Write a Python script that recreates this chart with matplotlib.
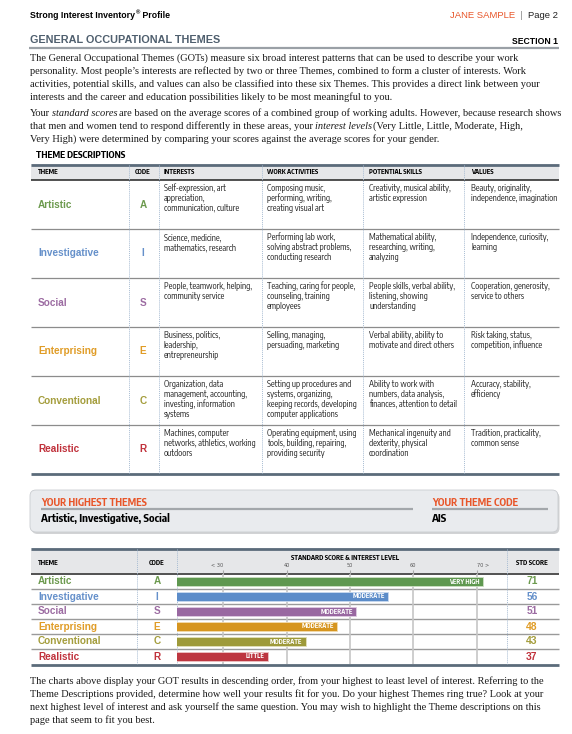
import numpy as np
import matplotlib
matplotlib.use('Agg')
from matplotlib import pyplot as plt
from matplotlib import font_manager
from matplotlib import ft2font
from matplotlib.patches import Rectangle, FancyBboxPatch

# ---- data ----
themes = ['Artistic', 'Investigative', 'Social', 'Enterprising', 'Conventional', 'Realistic']
codes = ['A', 'I', 'S', 'E', 'C', 'R']
interests = [
    ['Self-expression, art', 'appreciation,', 'communication, culture'],
    ['Science, medicine,', 'mathematics, research'],
    ['People, teamwork, helping,', 'community service'],
    ['Business, politics,', 'leadership,', 'entrepreneurship'],
    ['Organization, data', 'management, accounting,', 'investing, information', 'systems'],
    ['Machines, computer', 'networks, athletics, working', 'outdoors'],
]
work_activities = [
    ['Composing music,', 'performing, writing,', 'creating visual art'],
    ['Performing lab work,', 'solving abstract problems,', 'conducting research'],
    ['Teaching, caring for people,', 'counseling, training', 'employees'],
    ['Selling, managing,', 'persuading, marketing'],
    ['Setting up procedures and', 'systems, organizing,', 'keeping records, developing', 'computer applications'],
    ['Operating equipment, using', 'tools, building, repairing,', 'providing security'],
]
potential_skills = [
    ['Creativity, musical ability,', 'artistic expression'],
    ['Mathematical ability,', 'researching, writing,', 'analyzing'],
    ['People skills, verbal ability,', 'listening, showing', 'understanding'],
    ['Verbal ability, ability to', 'motivate and direct others'],
    ['Ability to work with', 'numbers, data analysis,', 'finances, attention to detail'],
    ['Mechanical ingenuity and', 'dexterity, physical', 'coordination'],
]
values = [
    ['Beauty, originality,', 'independence, imagination'],
    ['Independence, curiosity,', 'learning'],
    ['Cooperation, generosity,', 'service to others'],
    ['Risk taking, status,', 'competition, influence'],
    ['Accuracy, stability,', 'efficiency'],
    ['Tradition, practicality,', 'common sense'],
]
table_headers = ['THEME', 'CODE', 'INTERESTS', 'WORK ACTIVITIES', 'POTENTIAL SKILLS', 'VALUES']
scores = [71, 56, 51, 48, 43, 37]
levels = ['VERY HIGH', 'MODERATE', 'MODERATE', 'MODERATE', 'MODERATE', 'LITTLE']
score_ticks = [30, 40, 50, 60, 70]
score_tick_labels = ['< 30', '40', '50', '60', '70 >']
highest_themes = 'Artistic, Investigative, Social'
theme_code = 'AIS'

# each line is a list of (text, style) pieces, joined by single spaces
intro_lines = [
    [("The General Occupational Themes (GOTs) measure six broad interest patterns that can be used to describe your work", 'normal')],
    [("personality. Most people\u2019s interests are reflected by two or three Themes, combined to form a cluster of interests. Work", 'normal')],
    [("activities, potential skills, and values can also be classified into these six Themes. This provides a direct link between your", 'normal')],
    [("interests and the career and education possibilities likely to be most meaningful to you.", 'normal')],
]
scores_lines = [
    [("Your", 'normal'), ("standard scores", 'italic'),
     ("are based on the average scores of a combined group of working adults. However, because research shows", 'normal')],
    [("that men and women tend to respond differently in these areas, your", 'normal'),
     ("interest levels", 'italic'), ("(Very Little, Little, Moderate, High,", 'normal')],
    [("Very High) were determined by comparing your scores against the average scores for your gender.", 'normal')],
]
closing_lines = [
    [("The charts above display your GOT results in descending order, from your highest to least level of interest. Referring to the", 'normal')],
    [("Theme Descriptions provided, determine how well your results fit for you. Do your highest Themes ring true? Look at your", 'normal')],
    [("next highest level of interest and ask yourself the same question. You may wish to highlight the Theme descriptions on this", 'normal')],
    [("page that seem to fit you best.", 'normal')],
]

# ---- styles ----
W, H = 572, 734
SANS = ['Liberation Sans', 'DejaVu Sans']
SERIF = ['Liberation Serif', 'DejaVu Serif']

# pick a condensed sans if one is installed
_fonts = font_manager.fontManager.ttflist
_names = {f.name for f in _fonts}
NARROW, STRETCH = 'Liberation Sans', 'normal'
if 'Liberation Sans Narrow' in _names:
    NARROW = 'Liberation Sans Narrow'
else:
    _cand = sorted(n for n in _names if ('Condensed' in n or 'Narrow' in n)
                   and 'Sans' in n and 'Mono' not in n)
    if _cand:
        NARROW = _cand[0]
    else:
        _cond = [f for f in _fonts if f.stretch in ('condensed', 'semi-condensed')
                 and 'Mono' not in f.name and 'Serif' not in f.name]
        if _cond:
            NARROW, STRETCH = _cond[0].name, _cond[0].stretch

text_colors = ['#6c9a4e', '#6590ca', '#9c6ca2', '#e09c26', '#a49d3c', '#c0313b']
bar_colors = ['#5f9850', '#5b8cc9', '#9968a1', '#d6951f', '#9e9a3a', '#bd3640']
bar_edges = ['#cfe0c6', '#c9daf0', '#e0cde3', '#f3dcae', '#e3e1bd', '#eec3c5']
orange = '#e8562a'
rule_dark = '#5b6b7a'
band = '#e6e7e9'
dotted = '#a9bdd3'

fig = plt.figure(figsize=(W / 100, H / 100), dpi=100)
ax = fig.add_axes([0, 0, 1, 1])
ax.set_xlim(0, W)
ax.set_ylim(H, 0)
ax.axis('off')
renderer = fig.canvas.get_renderer()


def width_of(t):
    return t.get_window_extent(renderer=renderer).width


def measure(txt, **kw):
    t = ax.text(0, -100, txt, **kw)
    w = width_of(t)
    t.remove()
    return w


def fit(txt, target, **kw):
    # font size that makes txt about target px wide
    return 10 * target / measure(txt, fontsize=10, **kw)


_ft = {}
_KERN = getattr(getattr(ft2font, 'Kerning', None), 'DEFAULT', 0)


def advance(s, style):
    # glyph advances + kerning (unscaled), spaces included
    if style not in _ft:
        f = ft2font.FT2Font(font_manager.findfont(
            font_manager.FontProperties(family=SERIF, style=style)))
        f.set_size(10, 72)
        _ft[style] = f
    f = _ft[style]
    total, prev = 0.0, None
    for c in s:
        gi = f.get_char_index(ord(c))
        if prev is not None:
            try:
                total += f.get_kerning(prev, gi, _KERN) / 64
            except Exception:
                pass
        total += f.load_char(ord(c)).linearHoriAdvance / 65536
        prev = gi
    return total


def ntext(x, y, s, size, **kw):
    kw.setdefault('va', 'center')
    return ax.text(x, y, s, fontsize=size, family=NARROW, fontstretch=STRETCH, **kw)


def hline(y, x0=31, x1=559, lw=1.0, color='#8a8a8a'):
    ax.plot([x0, x1], [y, y], lw=lw, color=color, solid_capstyle='butt')


def vline(x, y0, y1, lw=0.7, color=dotted):
    ax.plot([x, x], [y0, y1], lw=lw, color=color, ls=(0, (1, 1)))


_ref = ' '.join(p for p, _ in scores_lines[0])
SERIF_SIZE = fit(_ref, 528, family=SERIF)
ADV_K = measure(_ref, fontsize=SERIF_SIZE, family=SERIF) / advance(_ref, 'normal')
CELL = fit('communication, culture', 75, family=NARROW, fontstretch=STRETCH)
HEAD = fit('POTENTIAL SKILLS', 53, family=NARROW, fontstretch=STRETCH, weight='bold')
LABEL = fit('MODERATE', 32, family=NARROW, fontstretch=STRETCH, weight='bold')
GAP_FIX = 0.8  # small trim on the gap between pieces


def rich_line(x, y, parts):
    kw = dict(va='baseline', ha='left', color='#1a1a1a', fontsize=SERIF_SIZE, family=SERIF)
    for txt, style in parts:
        ax.text(x, y, txt, style=style, **kw)
        x += ADV_K * advance(txt + ' ', style) - GAP_FIX


def paragraph(lines, y0, step=13):
    for i, parts in enumerate(lines):
        rich_line(30, y0 + i * step + 2.8, parts)


# ---- page header ----
hk = dict(fontsize=6.3, weight='bold', family=SANS)
ax.text(30, 15, 'Strong Interest Inventory', va='center', **hk)
x = 30 + measure('Strong Interest Inventory', **hk) + 0.5
ax.text(x, 12.5, '\u00ae', va='center', fontsize=4.2, weight='bold', family=SANS)
x += measure('\u00ae', fontsize=4.2, weight='bold', family=SANS) + 0.3
ax.text(x, 15, ' Profile', va='center', **hk)

x = 558
for txt, col in [('Page 2', '#222222'), ('  |  ', '#888888'), ('JANE SAMPLE', orange)]:
    t = ax.text(x, 15, txt, fontsize=6.8, color=col, family=SANS, va='center', ha='right')
    x -= width_of(t)

ax.text(30, 40, 'GENERAL OCCUPATIONAL THEMES', fontsize=7.8, weight='bold',
        color='#4f5f6e', family=SANS, va='center')
ax.text(558, 41.5, 'SECTION 1', fontsize=6.2, weight='bold', family=SANS,
        va='center', ha='right')
hline(47.5, 29, 559, lw=1.6, color='#9aa0a6')

paragraph(intro_lines, 58)
paragraph(scores_lines, 113)

# ---- theme descriptions table ----
ntext(36, 156, 'THEME DESCRIPTIONS', fit('THEME DESCRIPTIONS', 90, family=NARROW,
      fontstretch=STRETCH, weight='bold'), weight='bold')
ax.add_patch(Rectangle((31, 164), 528, 16, color=band, lw=0))
hline(164.5, lw=2.0, color=rule_dark)
hline(180, lw=1.1, color='#222222')

col_x = [38, 143, 164, 267, 369, 471]
for j, h in enumerate(table_headers):
    ntext(col_x[j], 172.5, h, HEAD, weight='bold', ha='center' if j == 1 else 'left')

row_top = 180
row_h = 49
columns = [interests, work_activities, potential_skills, values]
for i, name in enumerate(themes):
    top = row_top + i * row_h
    ax.text(38, top + row_h / 2, name, fontsize=7.2, weight='bold', color=text_colors[i],
            family=SANS, va='center')
    ax.text(143, top + row_h / 2, codes[i], fontsize=7.2, weight='bold', color=text_colors[i],
            family=SANS, va='center', ha='center')
    for c, col in enumerate(columns):
        for k, line in enumerate(col[i]):
            ntext(col_x[c + 2], top + 8.5 + 10 * k, line, CELL, color='#1e1e1e')
    if i > 0:
        hline(top, lw=0.9, color='#8c8c8c')
hline(row_top + 6 * row_h, lw=2.0, color=rule_dark)
for xs in [129, 159, 262, 363, 464]:
    vline(xs, 165, 473)

# ---- highest themes box ----
ax.add_patch(FancyBboxPatch((31.5, 492), 528, 42, boxstyle='round,pad=0,rounding_size=6',
                            fc='#b4b6b9', ec='none', alpha=0.6))
ax.add_patch(FancyBboxPatch((30, 490), 528, 42, boxstyle='round,pad=0,rounding_size=6',
                            fc='#e9ebee', ec='#c9ccd0', lw=0.6))
BOXT = fit('YOUR HIGHEST THEMES', 106, family=NARROW, fontstretch=STRETCH, weight='bold')
BOXV = fit(highest_themes, 128, family=NARROW, fontstretch=STRETCH, weight='bold')
ntext(41, 502, 'YOUR HIGHEST THEMES', BOXT, weight='bold', color=orange)
ntext(432, 502, 'YOUR THEME CODE', BOXT, weight='bold', color=orange)
hline(508.5, 41, 413, lw=1.6, color='#a3a7ab')
hline(508.5, 432, 548, lw=1.6, color='#a3a7ab')
ntext(41, 518.5, highest_themes, BOXV, weight='bold')
ntext(432, 518.5, theme_code, BOXV, weight='bold')

# ---- score table ----
ax.add_patch(Rectangle((31, 548), 528, 25, color=band, lw=0))
hline(548.5, lw=2.0, color=rule_dark)
hline(573.5, lw=1.1, color='#222222')
ntext(38, 563, 'THEME', HEAD, weight='bold')
ntext(157, 563, 'CODE', HEAD, weight='bold', ha='center')
ntext(532, 563, 'STD SCORE', fit('STD SCORE', 32, family=NARROW, fontstretch=STRETCH,
      weight='bold'), weight='bold', ha='center')
ntext(345, 558, 'STANDARD SCORE & INTEREST LEVEL',
      fit('STANDARD SCORE & INTEREST LEVEL', 108, family=NARROW, fontstretch=STRETCH,
          weight='bold'), weight='bold', ha='center')

s_top, s_h = 574, 15
for i, name in enumerate(themes):
    yc = s_top + s_h * (i + 0.5)
    ax.text(38, yc, name, fontsize=7.2, weight='bold', color=text_colors[i], family=SANS, va='center')
    ax.text(157, yc, codes[i], fontsize=7.2, weight='bold', color=text_colors[i], family=SANS,
            va='center', ha='center')
    ax.text(532, yc, str(scores[i]), fontsize=7.4, weight='bold', color=text_colors[i],
            family=SANS, va='center', ha='center')
    if i > 0:
        hline(s_top + s_h * i, lw=1.0, color='#9a9a9a')
hline(665, lw=2.0, color=rule_dark)
for xs in [137, 177, 507]:
    vline(xs, 549, 664)

bx = fig.add_axes([177 / W, 1 - 664 / H, (507 - 177) / W, 90 / H])
bx.patch.set_visible(False)
bx.set_xlim(22.7, 74.8)
bx.set_ylim(5.5, -0.5)
ypos = np.arange(len(themes))
bx.barh(ypos, scores, left=0, height=0.55, color=bar_colors, edgecolor=bar_edges, lw=0.6)
for i in range(len(themes)):
    bx.text(scores[i] - 0.5, ypos[i], levels[i], ha='right', va='center', color='white',
            fontsize=LABEL, weight='bold', family=NARROW, fontstretch=STRETCH)
bx.set_xticks(score_ticks, score_tick_labels)
bx.set_yticks([])
bx.xaxis.tick_top()
bx.tick_params(axis='x', length=3, width=0.8, color='#aaaaaa', pad=1.5, labelsize=3.6,
               labelcolor='#555555')
labs = bx.get_xticklabels()
labs[0].set_ha('right')
labs[-1].set_ha('left')
bx.grid(axis='x', color='#c6c6c6', lw=1.2)
bx.set_axisbelow(True)
for s in bx.spines.values():
    s.set_visible(False)

paragraph(closing_lines, 681)

fig.savefig('out.png', dpi=100)
